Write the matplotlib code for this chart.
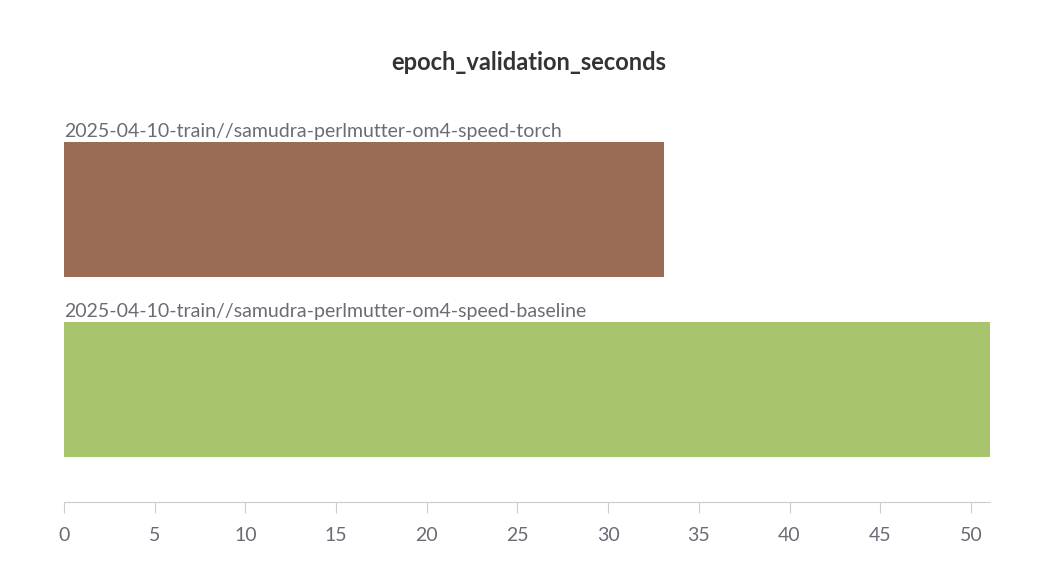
import matplotlib
matplotlib.use("Agg")
import matplotlib.pyplot as plt

names = ["2025-04-10-train//samudra-perlmutter-om4-speed-torch",
         "2025-04-10-train//samudra-perlmutter-om4-speed-baseline"]
values = [33.07, 51.05]
colors = ["#9a6b55", "#a8c56d"]
ticks = [0, 5, 10, 15, 20, 25, 30, 35, 40, 45, 50]

plt.rcParams['font.family'] = ['Lato', 'DejaVu Sans']
fig = plt.figure(figsize=(10.58, 5.64), dpi=100)
ax = fig.add_axes([64/1058, 1-502/564, (990-64)/1058, (502-120)/564])
pos = list(range(len(values)))
ax.barh(pos, values, height=0.75, color=colors)
for p, n in zip(pos, names):
    ax.text(0, p - 0.385, n, ha='left', va='bottom', fontsize=14, color='#6b6b76')
ax.set_ylim(1.625, -0.497)
ax.set_xlim(0, max(values))
ax.set_xticks(ticks)
ax.set_xticklabels([str(t) for t in ticks])
ax.tick_params(axis='x', colors='#cccccc', labelcolor='#6b6b76', labelsize=14, length=8, pad=10)
ax.set_yticks([])
for s in ['top', 'left', 'right']:
    ax.spines[s].set_visible(False)
ax.spines['bottom'].set_color('#cccccc')
fig.text(0.5, 1-62/564, "epoch_validation_seconds", ha='center', va='center',
         fontsize=17, fontweight='bold', color='#333333')
fig.savefig("out.png", dpi=100)
